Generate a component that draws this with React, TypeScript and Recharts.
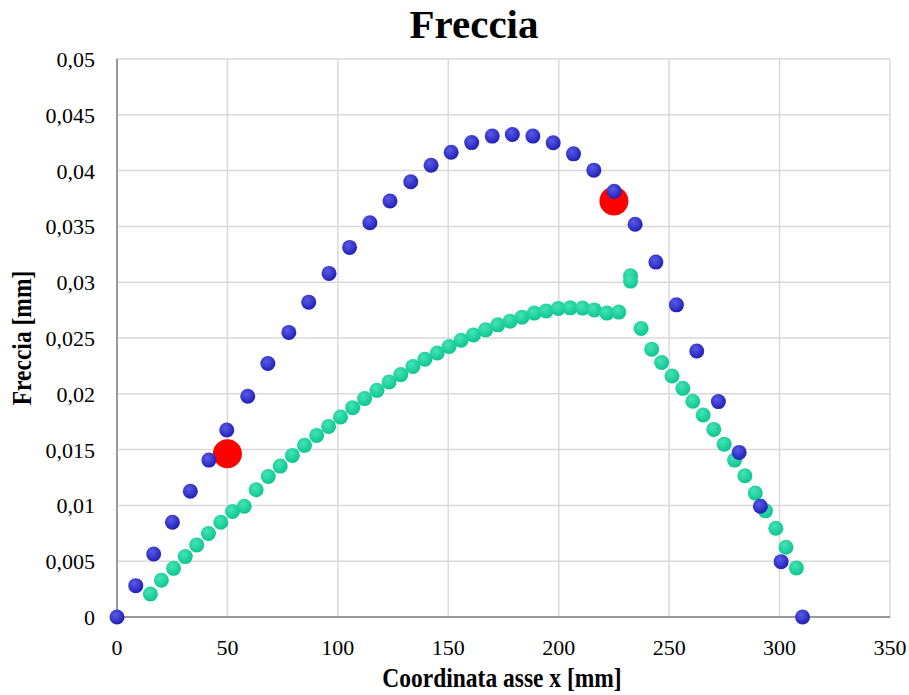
import {
  ScatterChart,
  Scatter,
  XAxis,
  YAxis,
  CartesianGrid
} from "recharts";

// serie blu (freccia calcolata)
const blueX = [0, 8.5, 16.6, 25.1, 33.2, 41.6, 49.7, 59.2, 68.3, 77.8, 86.8, 96, 105.3, 114.5, 123.6, 133, 142.2, 151.3, 160.6, 169.9, 179, 188.3, 197.5, 206.7, 215.9, 225.1, 234.6, 244, 253.3, 262.5, 272.3, 281.7, 291.3, 300.7, 310.4];
const blueY = [0, 0.00281, 0.00565, 0.00849, 0.01127, 0.01406, 0.01675, 0.01978, 0.02271, 0.0255, 0.02821, 0.03079, 0.03312, 0.03533, 0.03728, 0.039, 0.04048, 0.04165, 0.04251, 0.04309, 0.04323, 0.04309, 0.04249, 0.0415, 0.04004, 0.03815, 0.03519, 0.0318, 0.02797, 0.02384, 0.0193, 0.01475, 0.00993, 0.00496, 0];

// serie verde
const greenX = [15.1, 20.1, 25.6, 30.9, 36.1, 41.4, 47, 52.3, 57.6, 63, 68.5, 73.9, 79.4, 84.9, 90.4, 95.8, 101.2, 106.7, 112.1, 117.7, 123.2, 128.5, 134, 139.4, 145, 150.4, 155.8, 161.4, 166.9, 172.4, 178, 183.4, 188.9, 194.3, 199.8, 205.2, 210.8, 216.1, 221.8, 227.2, 232.5, 232.5, 237.3, 242.1, 246.6, 251.3, 256.2, 260.7, 265.4, 270.2, 274.9, 279.6, 284.3, 289, 293.6, 298.3, 302.9, 307.6];
const greenY = [0.00206, 0.00329, 0.00436, 0.00541, 0.00646, 0.00748, 0.00849, 0.00945, 0.00993, 0.0114, 0.01259, 0.01352, 0.01448, 0.01538, 0.01627, 0.01708, 0.01792, 0.01876, 0.01957, 0.02031, 0.02106, 0.02172, 0.02244, 0.0231, 0.02366, 0.02424, 0.0248, 0.02528, 0.02573, 0.02618, 0.02651, 0.02687, 0.02723, 0.02743, 0.02765, 0.0277, 0.02768, 0.02752, 0.02723, 0.02732, 0.03057, 0.0301, 0.02585, 0.024, 0.0228, 0.0216, 0.02049, 0.01933, 0.0181, 0.01681, 0.01549, 0.01406, 0.01266, 0.0111, 0.00951, 0.00795, 0.00625, 0.0044];

// punti rossi
const redX = [50, 225];
const redY = [0.01463, 0.03728];

const xTicks = [0, 50, 100, 150, 200, 250, 300, 350];
const yTicks = [0, 0.005, 0.01, 0.015, 0.02, 0.025, 0.03, 0.035, 0.04, 0.045, 0.05];

const zip = (xs: number[], ys: number[]) => xs.map((x, i) => ({ x, y: ys[i] }));

const blueData = zip(blueX, blueY);
const greenData = zip(greenX, greenY);
const redData = zip(redX, redY);

const FONT = '"Liberation Serif", "Times New Roman", serif';
const tickStyle = { fontFamily: FONT, fontSize: 22, fill: "#000" };
const titleStyle = { fontFamily: FONT, fontWeight: "bold" as const, fill: "#000" };

const dot = (r: number, fill: string) => (props: any) => (
  <circle cx={props.cx} cy={props.cy} r={r} fill={fill} />
);

const XTick = (props: any) => (
  <text x={props.x} y={props.y + 30} textAnchor="middle" style={tickStyle}>
    {props.payload.value}
  </text>
);

const YTick = (props: any) => (
  <text x={props.x - 14} y={props.y + 8} textAnchor="end" style={tickStyle}>
    {String(props.payload.value).replace(".", ",")}
  </text>
);

export default function App() {
  return (
    <div style={{ position: "absolute", left: 0, top: 0, width: 909, height: 695, background: "#fff" }}>
      <ScatterChart
        width={909}
        height={695}
        margin={{ top: 59, right: 19, bottom: 0, left: 0 }}
      >
        <defs>
          <radialGradient id="gBlue" cx="40%" cy="35%" r="65%">
            <stop offset="0%" stopColor="#5a5ae6" />
            <stop offset="100%" stopColor="#2020b8" />
          </radialGradient>
          <radialGradient id="gGreen" cx="40%" cy="35%" r="65%">
            <stop offset="0%" stopColor="#45e3b5" />
            <stop offset="100%" stopColor="#0cc690" />
          </radialGradient>
        </defs>
        <CartesianGrid stroke="#d9d9d9" strokeWidth={1.5} />
        <XAxis
          type="number"
          dataKey="x"
          domain={[0, 350]}
          ticks={xTicks}
          height={78}
          tickLine={false}
          axisLine={{ stroke: "#999", strokeWidth: 2 }}
          tick={XTick}
        />
        <YAxis
          type="number"
          dataKey="y"
          domain={[0, 0.05]}
          ticks={yTicks}
          width={117}
          tickLine={false}
          axisLine={{ stroke: "#999", strokeWidth: 2 }}
          tick={YTick}
        />
        <Scatter data={redData} shape={dot(14.5, "#ff0000")} isAnimationActive={false} />
        <Scatter data={greenData} shape={dot(7.5, "url(#gGreen)")} isAnimationActive={false} />
        <Scatter data={blueData} shape={dot(7.5, "url(#gBlue)")} isAnimationActive={false} />
      </ScatterChart>
      <svg
        width={909}
        height={695}
        style={{ position: "absolute", left: 0, top: 0, pointerEvents: "none" }}
      >
        <text x={474} y={38} textAnchor="middle" fontSize={41} style={titleStyle}>
          Freccia
        </text>
        <text transform="translate(502,687) scale(1,1.2)" textAnchor="middle" fontSize={23.5} style={titleStyle}>
          Coordinata asse x [mm]
        </text>
        <text transform="translate(31,338) rotate(-90) scale(1,1.2)" textAnchor="middle" fontSize={23.5} style={titleStyle}>
          Freccia [mm]
        </text>
      </svg>
    </div>
  );
}
